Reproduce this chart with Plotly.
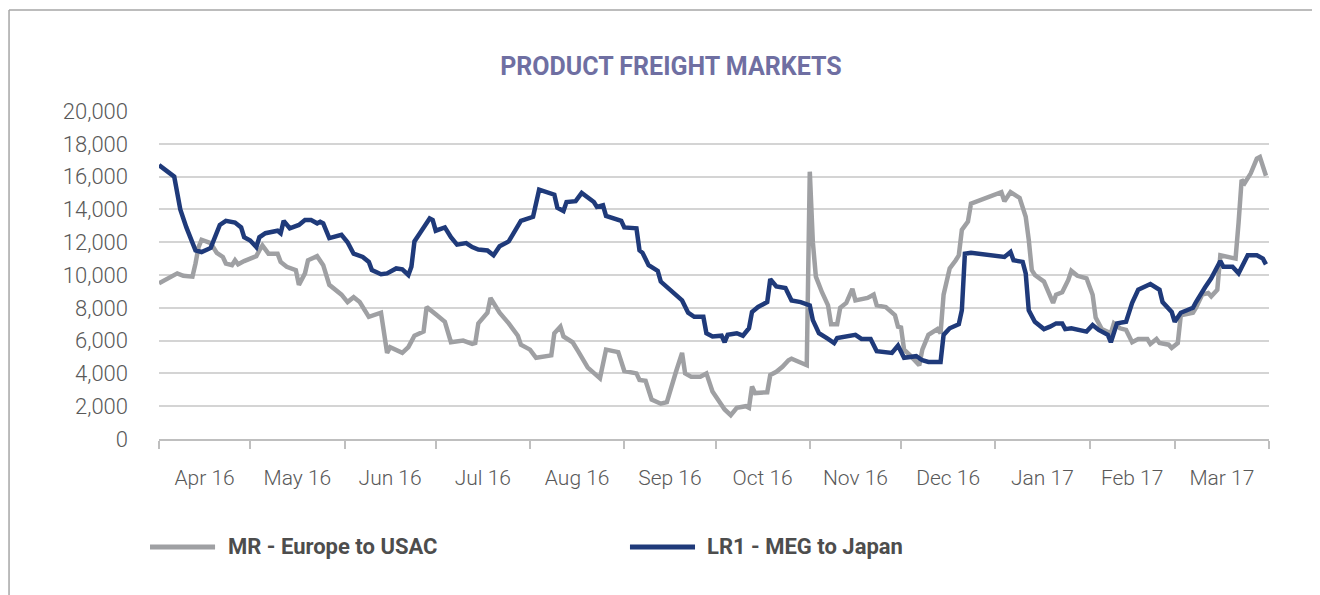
import plotly.graph_objects as go

# MR - Europe to USAC (grey)
mr_dates = [
    "2016-04-01", "2016-04-04", "2016-04-07", "2016-04-09", "2016-04-12", "2016-04-13",
    "2016-04-14", "2016-04-15", "2016-04-18", "2016-04-20", "2016-04-22", "2016-04-23",
    "2016-04-25", "2016-04-26", "2016-04-27", "2016-04-29", "2016-05-03", "2016-05-04",
    "2016-05-05", "2016-05-07", "2016-05-10", "2016-05-11", "2016-05-13", "2016-05-16",
    "2016-05-17", "2016-05-19", "2016-05-20", "2016-05-23", "2016-05-25", "2016-05-27",
    "2016-05-31", "2016-06-02", "2016-06-04", "2016-06-06", "2016-06-09", "2016-06-13",
    "2016-06-15", "2016-06-16", "2016-06-20", "2016-06-22", "2016-06-24", "2016-06-27",
    "2016-06-28", "2016-07-01", "2016-07-04", "2016-07-06", "2016-07-10", "2016-07-13",
    "2016-07-14", "2016-07-15", "2016-07-18", "2016-07-19", "2016-07-22", "2016-07-25",
    "2016-07-28", "2016-07-29", "2016-08-01", "2016-08-03", "2016-08-06", "2016-08-08",
    "2016-08-09", "2016-08-11", "2016-08-12", "2016-08-15", "2016-08-17", "2016-08-20",
    "2016-08-24", "2016-08-26", "2016-08-30", "2016-09-01", "2016-09-05", "2016-09-06",
    "2016-09-08", "2016-09-10", "2016-09-13", "2016-09-15", "2016-09-18", "2016-09-20",
    "2016-09-21", "2016-09-23", "2016-09-26", "2016-09-28", "2016-09-30", "2016-10-02",
    "2016-10-04", "2016-10-06", "2016-10-08", "2016-10-11", "2016-10-12", "2016-10-13",
    "2016-10-14", "2016-10-18", "2016-10-19", "2016-10-21", "2016-10-23", "2016-10-25",
    "2016-10-26", "2016-10-31", "2016-11-01", "2016-11-02", "2016-11-03", "2016-11-05",
    "2016-11-07", "2016-11-08", "2016-11-10", "2016-11-11", "2016-11-13", "2016-11-15",
    "2016-11-16", "2016-11-20", "2016-11-22", "2016-11-23", "2016-11-26", "2016-11-29",
    "2016-11-30", "2016-12-01", "2016-12-02", "2016-12-04", "2016-12-06", "2016-12-07",
    "2016-12-08", "2016-12-10", "2016-12-13", "2016-12-14", "2016-12-15", "2016-12-16",
    "2016-12-17", "2016-12-19", "2016-12-20", "2016-12-21", "2016-12-23", "2016-12-24",
    "2017-01-03", "2017-01-04", "2017-01-06", "2017-01-09", "2017-01-11", "2017-01-12",
    "2017-01-13", "2017-01-14", "2017-01-17", "2017-01-20", "2017-01-21", "2017-01-23",
    "2017-01-25", "2017-01-26", "2017-01-28", "2017-01-31", "2017-02-02", "2017-02-03",
    "2017-02-05", "2017-02-08", "2017-02-09", "2017-02-11", "2017-02-13", "2017-02-15",
    "2017-02-17", "2017-02-20", "2017-02-21", "2017-02-23", "2017-02-24", "2017-02-27",
    "2017-02-28", "2017-03-02", "2017-03-03", "2017-03-07", "2017-03-08", "2017-03-10",
    "2017-03-12", "2017-03-13", "2017-03-15", "2017-03-16", "2017-03-20", "2017-03-21",
    "2017-03-22", "2017-03-23", "2017-03-24", "2017-03-26", "2017-03-28", "2017-03-29",
    "2017-03-31",
]
mr_values = [
    9500, 9800, 10100, 9950, 9900, 10700,
    11700, 12150, 11950, 11350, 11100, 10700,
    10600, 10900, 10650, 10850, 11150, 11500,
    11800, 11300, 11300, 10800, 10500, 10300,
    9400, 10100, 10900, 11150, 10600, 9400,
    8800, 8350, 8650, 8350, 7450, 7700,
    5250, 5600, 5250, 5600, 6300, 6550,
    8050, 7600, 7150, 5900, 6000, 5800,
    5850, 7050, 7700, 8600, 7700, 7050,
    6300, 5750, 5450, 4950, 5050, 5100,
    6450, 6850, 6250, 5900, 5300, 4350,
    3700, 5450, 5300, 4150, 4000, 3600,
    3550, 2400, 2150, 2250, 4100, 5250,
    4000, 3800, 3800, 4000, 2900, 2400,
    1800, 1450, 1900, 2000, 1900, 3200,
    2800, 2850, 3900, 4100, 4400, 4800,
    4900, 4500, 16300, 12000, 9900, 8950,
    8150, 7000, 7000, 8000, 8300, 9150,
    8450, 8600, 8800, 8150, 8050, 7550,
    6850, 6800, 5450, 5100, 4700, 4500,
    5450, 6350, 6700, 6450, 8800, 9700,
    10400, 10900, 11200, 12750, 13250, 14350,
    15050, 14500, 15050, 14700, 13550, 12150,
    10300, 10000, 9600, 8300, 8800, 8950,
    9700, 10250, 9950, 9800, 8800, 7400,
    6700, 6450, 7050, 6750, 6650, 5900,
    6100, 6100, 5800, 6100, 5850, 5750,
    5550, 5850, 7550, 7700, 8000, 8800,
    8900, 8700, 9100, 11200, 11050, 11000,
    13200, 15800, 15600, 16200, 17100, 17200,
    16050,
]

# LR1 - MEG to Japan (navy)
lr1_dates = [
    "2016-04-01", "2016-04-05", "2016-04-06", "2016-04-08", "2016-04-10", "2016-04-13",
    "2016-04-15", "2016-04-18", "2016-04-19", "2016-04-21", "2016-04-23", "2016-04-26",
    "2016-04-28", "2016-04-29", "2016-05-01", "2016-05-03", "2016-05-04", "2016-05-06",
    "2016-05-10", "2016-05-11", "2016-05-12", "2016-05-14", "2016-05-17", "2016-05-19",
    "2016-05-21", "2016-05-23", "2016-05-24", "2016-05-25", "2016-05-27", "2016-05-31",
    "2016-06-02", "2016-06-04", "2016-06-07", "2016-06-09", "2016-06-10", "2016-06-13",
    "2016-06-15", "2016-06-18", "2016-06-20", "2016-06-22", "2016-06-23", "2016-06-24",
    "2016-06-26", "2016-06-29", "2016-06-30", "2016-07-01", "2016-07-04", "2016-07-06",
    "2016-07-08", "2016-07-11", "2016-07-13", "2016-07-15", "2016-07-18", "2016-07-20",
    "2016-07-22", "2016-07-25", "2016-07-29", "2016-08-02", "2016-08-04", "2016-08-09",
    "2016-08-10", "2016-08-12", "2016-08-13", "2016-08-16", "2016-08-18", "2016-08-20",
    "2016-08-22", "2016-08-23", "2016-08-25", "2016-08-26", "2016-08-31", "2016-09-01",
    "2016-09-05", "2016-09-06", "2016-09-07", "2016-09-09", "2016-09-12", "2016-09-13",
    "2016-09-17", "2016-09-20", "2016-09-22", "2016-09-24", "2016-09-27", "2016-09-28",
    "2016-09-30", "2016-10-03", "2016-10-04", "2016-10-05", "2016-10-08", "2016-10-10",
    "2016-10-12", "2016-10-13", "2016-10-15", "2016-10-18", "2016-10-19", "2016-10-21",
    "2016-10-24", "2016-10-26", "2016-10-29", "2016-11-01", "2016-11-02", "2016-11-04",
    "2016-11-07", "2016-11-09", "2016-11-10", "2016-11-13", "2016-11-16", "2016-11-18",
    "2016-11-21", "2016-11-23", "2016-11-28", "2016-11-30", "2016-12-02", "2016-12-06",
    "2016-12-08", "2016-12-10", "2016-12-14", "2016-12-15", "2016-12-17", "2016-12-20",
    "2016-12-21", "2016-12-22", "2016-12-24", "2017-01-04", "2017-01-06", "2017-01-07",
    "2017-01-10", "2017-01-11", "2017-01-12", "2017-01-14", "2017-01-17", "2017-01-19",
    "2017-01-21", "2017-01-23", "2017-01-24", "2017-01-26", "2017-01-29", "2017-01-31",
    "2017-02-02", "2017-02-04", "2017-02-07", "2017-02-08", "2017-02-10", "2017-02-13",
    "2017-02-15", "2017-02-17", "2017-02-21", "2017-02-24", "2017-02-25", "2017-02-28",
    "2017-03-01", "2017-03-03", "2017-03-07", "2017-03-08", "2017-03-11", "2017-03-13",
    "2017-03-16", "2017-03-17", "2017-03-20", "2017-03-22", "2017-03-25", "2017-03-28",
    "2017-03-30", "2017-03-31",
]
lr1_values = [
    16700, 16200, 16000, 14000, 12900, 11500,
    11400, 11650, 12100, 13050, 13300, 13200,
    12900, 12300, 12100, 11700, 12300, 12550,
    12700, 12550, 13300, 12850, 13050, 13350,
    13350, 13150, 13250, 13150, 12250, 12450,
    12000, 11300, 11100, 10800, 10300, 10050,
    10100, 10400, 10350, 10000, 10500, 12050,
    12600, 13450, 13350, 12700, 12900, 12300,
    11850, 11950, 11700, 11550, 11500, 11200,
    11750, 12050, 13300, 13550, 15200, 14900,
    14100, 13900, 14450, 14500, 15000, 14700,
    14450, 14150, 14250, 13600, 13300, 12900,
    12850, 11500, 11350, 10600, 10250, 9600,
    8900, 8450, 7700, 7450, 7450, 6450,
    6250, 6300, 5900, 6350, 6450, 6300,
    6750, 7750, 8050, 8350, 9750, 9300,
    9200, 8450, 8350, 8150, 7250, 6450,
    6100, 5850, 6150, 6250, 6350, 6100,
    6100, 5350, 5250, 5700, 4950, 5050,
    4800, 4700, 4700, 6350, 6750, 7000,
    7850, 11300, 11350, 11100, 11400, 10900,
    10800, 10100, 7850, 7150, 6700, 6850,
    7050, 7050, 6700, 6750, 6600, 6550,
    6950, 6650, 6350, 5900, 7050, 7150,
    8300, 9100, 9450, 9100, 8350, 7750,
    7150, 7700, 8000, 8350, 9250, 9800,
    10850, 10500, 10500, 10100, 11200, 11200,
    11000, 10650,
]

series_names = ["MR - Europe to USAC", "LR1 - MEG to Japan"]
series_colors = ["#9fa0a3", "#1f3a7a"]

fig = go.Figure()
fig.add_trace(go.Scatter(x=mr_dates, y=mr_values, mode="lines", name=series_names[0],
                         line=dict(color=series_colors[0], width=4.5), showlegend=False))
fig.add_trace(go.Scatter(x=lr1_dates, y=lr1_values, mode="lines", name=series_names[1],
                         line=dict(color=series_colors[1], width=4.5), showlegend=False))

# legend drawn by hand (long line keys)
legend_y = -0.329
for x0, x1, tx, name, col in [(-0.0081, 0.0505, 0.0604, series_names[0], series_colors[0]),
                              (0.4243, 0.4829, 0.4919, series_names[1], series_colors[1])]:
    fig.add_shape(type="line", xref="paper", yref="paper", x0=x0, x1=x1, y0=legend_y, y1=legend_y,
                  line=dict(color=col, width=5))
    fig.add_annotation(xref="paper", yref="paper", x=tx, y=legend_y, text=name, showarrow=False,
                       xanchor="left", yanchor="middle",
                       font=dict(family="Roboto", size=22, color="#4d4d4d", weight="bold"))

# outer frame (left + top)
fig.add_shape(type="line", xref="paper", yref="paper", x0=-0.1351, x1=-0.1351, y0=1.308, y1=-0.48,
              line=dict(color="#a6a6a6", width=1.5))
fig.add_shape(type="line", xref="paper", yref="paper", x0=-0.1351, x1=1.06, y0=1.308, y1=1.308,
              line=dict(color="#a6a6a6", width=1.5))

fig.update_layout(
    width=1312, height=587,
    margin=dict(l=151, r=51, t=103, b=156),
    plot_bgcolor="white", paper_bgcolor="white",
    title=dict(text="<b>PRODUCT FREIGHT MARKETS</b>", x=0.5053, xanchor="center",
               y=1 - 58 / 587, yanchor="middle",
               font=dict(family="Roboto", size=25, color="#6f6fa2")),
    font=dict(family="Roboto", color="#595959"),
    xaxis=dict(
        type="date", range=["2016-04-01", "2017-04-01"],
        dtick="M1", tick0="2016-04-01", ticklabelmode="period", tickformat="%b %y",
        ticks="outside", ticklen=8, tickwidth=1.5, tickcolor="#bfbfbf",
        showline=True, linecolor="#bfbfbf", linewidth=1.5, showgrid=False,
        tickfont=dict(size=21, color="#595959", weight=300), ticklabelstandoff=11,
    ),
    yaxis=dict(
        range=[0, 20000], dtick=2000, tickformat=",",
        showgrid=True, gridcolor="#d4d4d4", gridwidth=1.5, zeroline=False,
        tickfont=dict(size=22, color="#595959", weight=300), ticklabelstandoff=30,
    ),
)

fig.write_html("out.html")
